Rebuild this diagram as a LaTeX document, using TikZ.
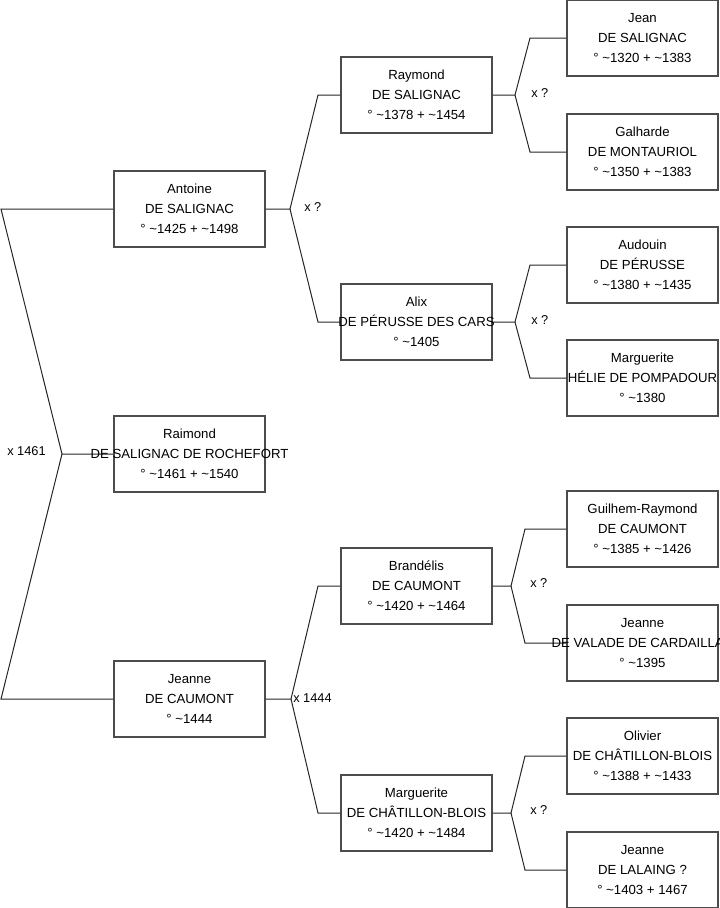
\documentclass[tikz,border=0pt]{standalone}
\usepackage{fontspec}
\setmainfont{Liberation Sans}
\newcommand{\tl}{\textasciitilde}
\begin{document}
\begin{tikzpicture}[x=0.75pt,y=-0.75pt,
  pbox/.style={draw=black!70,line width=0.8pt,minimum width=113.25pt,minimum height=57pt,inner sep=0pt},
  ptext/.style={align=center,font=\fontsize{9.9}{15}\selectfont,inner sep=0pt,yshift=0.3pt},
  conn/.style={draw=black!85,line width=0.75pt},
  mlabel/.style={anchor=west,font=\fontsize{9.6}{11}\selectfont,inner sep=0pt}]
\useasboundingbox (0,0) rectangle (719,908);
% boxes
\node[pbox] (raimond) at (189.5,454) {};
\node[pbox] (antoine) at (189.5,209) {};
\node[pbox] (jeanneC) at (189.5,699) {};
\node[pbox] (raymond) at (416.5,95) {};
\node[pbox] (alix) at (416.5,322) {};
\node[pbox] (brandelis) at (416.5,586) {};
\node[pbox] (margC) at (416.5,813) {};
\node[pbox] (jean) at (642.5,38) {};
\node[pbox] (galharde) at (642.5,152) {};
\node[pbox] (audouin) at (642.5,265) {};
\node[pbox] (margH) at (642.5,378) {};
\node[pbox] (guilhem) at (642.5,529) {};
\node[pbox] (jeanneV) at (642.5,643) {};
\node[pbox] (olivier) at (642.5,756) {};
\node[pbox] (jeanneL) at (642.5,870) {};
% connectors
\coordinate (f0) at (62,454);
\coordinate (t0) at (1,209);
\coordinate (b0) at (1,699);
\draw[conn] (raimond.west) -- (f0) -- (t0) -- (antoine.west);
\draw[conn] (f0) -- (b0) -- (jeanneC.west);
\coordinate (f1) at (290,209);
\draw[conn] (antoine.east) -- (f1) -- (318,95) -- (raymond.west);
\draw[conn] (f1) -- (318,322) -- (alix.west);
\coordinate (f2) at (291,699);
\draw[conn] (jeanneC.east) -- (f2) -- (318,586) -- (brandelis.west);
\draw[conn] (f2) -- (318,813) -- (margC.west);
\coordinate (f3) at (515,95);
\draw[conn] (raymond.east) -- (f3) -- (530,38) -- (jean.west);
\draw[conn] (f3) -- (530,152) -- (galharde.west);
\coordinate (f4) at (515,322);
\draw[conn] (alix.east) -- (f4) -- (530,265) -- (audouin.west);
\draw[conn] (f4) -- (530,378) -- (margH.west);
\coordinate (f5) at (511,586);
\draw[conn] (brandelis.east) -- (f5) -- (525,529) -- (guilhem.west);
\draw[conn] (f5) -- (525,643) -- (jeanneV.west);
\coordinate (f6) at (511,813);
\draw[conn] (margC.east) -- (f6) -- (525,756) -- (olivier.west);
\draw[conn] (f6) -- (525,870) -- (jeanneL.west);
% marriage labels
\node[mlabel] (m0) at (7,451) {x 1461};
\node[mlabel] (m1) at (304,207) {x ?};
\node[mlabel] (m2) at (293,698) {x 1444};
\node[mlabel] (m3) at (531,93) {x ?};
\node[mlabel] (m4) at (531,320) {x ?};
\node[mlabel] (m5) at (530,583) {x ?};
\node[mlabel] (m6) at (530,810) {x ?};
% texts
\node[ptext] at (raimond) {Raimond\\DE SALIGNAC DE ROCHEFORT\\° \tl1461 + \tl1540};
\node[ptext] at (antoine) {Antoine\\DE SALIGNAC\\° \tl1425 + \tl1498};
\node[ptext] at (jeanneC) {Jeanne\\DE CAUMONT\\° \tl1444};
\node[ptext] at (raymond) {Raymond\\DE SALIGNAC\\° \tl1378 + \tl1454};
\node[ptext] at (alix) {Alix\\DE PÉRUSSE DES CARS\\° \tl1405};
\node[ptext] at (brandelis) {Brandélis\\DE CAUMONT\\° \tl1420 + \tl1464};
\node[ptext] at (margC) {Marguerite\\DE CHÂTILLON-BLOIS\\° \tl1420 + \tl1484};
\node[ptext] at (jean) {Jean\\DE SALIGNAC\\° \tl1320 + \tl1383};
\node[ptext] at (galharde) {Galharde\\DE MONTAURIOL\\° \tl1350 + \tl1383};
\node[ptext] at (audouin) {Audouin\\DE PÉRUSSE\\° \tl1380 + \tl1435};
\node[ptext] at (margH) {Marguerite\\HÉLIE DE POMPADOUR\\° \tl1380};
\node[ptext] at (guilhem) {Guilhem-Raymond\\DE CAUMONT\\° \tl1385 + \tl1426};
\node[ptext] at (jeanneV) {Jeanne\\DE VALADE DE CARDAILLAC\\° \tl1395};
\node[ptext] at (olivier) {Olivier\\DE CHÂTILLON-BLOIS\\° \tl1388 + \tl1433};
\node[ptext] at (jeanneL) {Jeanne\\DE LALAING ?\\° \tl1403 + 1467};
\end{tikzpicture}
\end{document}
